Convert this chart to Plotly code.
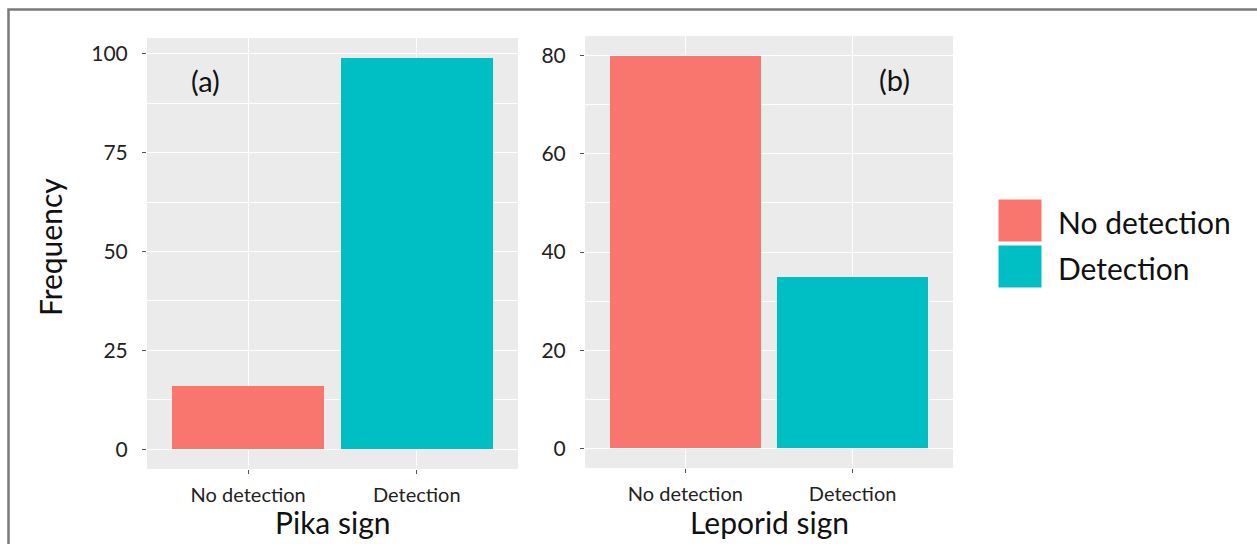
import plotly.graph_objects as go

categories = ["No detection", "Detection"]
pika_counts = [16, 99]
leporid_counts = [80, 35]
colors = ["#F8766D", "#00BFC4"]
panel_labels = ["(a)", "(b)"]
x_titles = ["Pika sign", "Leporid sign"]
y_title = "Frequency"
pika_ticks = [0, 25, 50, 75, 100]
leporid_ticks = [0, 20, 40, 60, 80]

W, H = 1257, 544
FONT = "Lato"


def px(x):
    return x / W


def py(y):
    return 1 - y / H


fig = go.Figure()

for i, cat in enumerate(categories):
    fig.add_trace(go.Bar(x=[cat], y=[pika_counts[i]], marker_color=colors[i],
                         marker_line_width=0, width=0.9, xaxis="x", yaxis="y",
                         showlegend=False, name=cat))
    fig.add_trace(go.Bar(x=[cat], y=[leporid_counts[i]], marker_color=colors[i],
                         marker_line_width=0, width=0.9, xaxis="x2", yaxis="y2",
                         showlegend=False, name=cat))

common_x = dict(type="category", categoryorder="array", categoryarray=categories,
                range=[-0.6, 1.6], showgrid=True, gridcolor="white", gridwidth=1.2,
                ticks="outside", ticklen=4, tickcolor="#555", tickwidth=1,
                ticklabelstandoff=4,
                tickfont=dict(family=FONT, size=20, color="#222"), zeroline=False,
                showline=False, fixedrange=True)
common_y = dict(showgrid=True, gridcolor="white", gridwidth=1.2,
                ticks="outside", ticklen=4, tickcolor="#555", tickwidth=1,
                ticklabelstandoff=10,
                tickfont=dict(family=FONT, size=21, color="#222"), zeroline=False,
                showline=False, fixedrange=True)

pmax = max(pika_counts)
lmax = max(leporid_counts)

fig.update_layout(
    width=W, height=H,
    margin=dict(l=0, r=0, t=0, b=0),
    paper_bgcolor="white",
    plot_bgcolor="#EBEBEB",
    bargap=0,
    showlegend=False,
    xaxis=dict(common_x, domain=[px(147), px(518)], anchor="y"),
    yaxis=dict(common_y, domain=[py(469), py(38)], anchor="x",
               range=[-0.05 * pmax, 1.05 * pmax], tickvals=pika_ticks,
               minor=dict(tickvals=[12.5, 37.5, 62.5, 87.5], showgrid=True,
                          gridcolor="white", gridwidth=0.6, ticks="")),
    xaxis2=dict(common_x, domain=[px(585), px(953)], anchor="y2"),
    yaxis2=dict(common_y, domain=[py(468), py(36)], anchor="x2",
                range=[-0.05 * lmax, 1.05 * lmax], tickvals=leporid_ticks,
                minor=dict(tickvals=[10, 30, 50, 70], showgrid=True,
                           gridcolor="white", gridwidth=0.6, ticks="")),
)

# Outer frame
fig.add_shape(type="rect", xref="paper", yref="paper",
              x0=px(8.5), y0=-0.02, x1=1.02, y1=py(9.5),
              line=dict(color="#7a7a7a", width=2.5), fillcolor="rgba(0,0,0,0)",
              layer="above")

ann = []
# Panel labels
ann.append(dict(text=panel_labels[0], x=px(205), y=py(80), xref="paper", yref="paper",
                showarrow=False, font=dict(family=FONT, size=29, color="#111"),
                xanchor="center", yanchor="middle"))
ann.append(dict(text=panel_labels[1], x=px(894), y=py(79), xref="paper", yref="paper",
                showarrow=False, font=dict(family=FONT, size=29, color="#111"),
                xanchor="center", yanchor="middle"))
# Axis titles
ann.append(dict(text=x_titles[0], x=px(332.5), y=py(522), xref="paper", yref="paper",
                showarrow=False, font=dict(family=FONT, size=30, color="#111"),
                xanchor="center", yanchor="middle"))
ann.append(dict(text=x_titles[1], x=px(769), y=py(522), xref="paper", yref="paper",
                showarrow=False, font=dict(family=FONT, size=30, color="#111"),
                xanchor="center", yanchor="middle"))
ann.append(dict(text=y_title, x=px(50), y=py(247), xref="paper", yref="paper",
                showarrow=False, textangle=-90, font=dict(family=FONT, size=30, color="#111"),
                xanchor="center", yanchor="middle"))

# Legend (keys + labels)
key_tops = [199, 245]
for i, cat in enumerate(categories):
    fig.add_shape(type="rect", xref="paper", yref="paper",
                  x0=px(998), x1=px(1042), y0=py(key_tops[i] + 43), y1=py(key_tops[i]),
                  fillcolor=colors[i], line=dict(color="white", width=1))
    ann.append(dict(text=cat, x=px(1056), y=py(key_tops[i] + 23), xref="paper", yref="paper",
                    showarrow=False, font=dict(family=FONT, size=30, color="#111"),
                    xanchor="left", yanchor="middle"))

fig.update_layout(annotations=ann)

fig.write_html("out.html", config={"displayModeBar": False},
               post_script="document.body.style.margin='0';document.body.style.overflow='hidden';")
